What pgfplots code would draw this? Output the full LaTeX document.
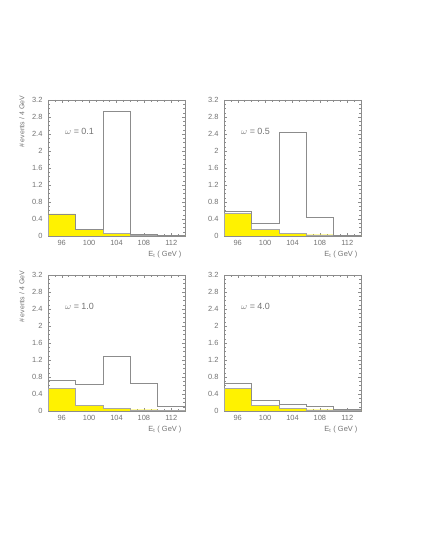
\documentclass[border=0pt]{standalone}
\usepackage{pgfplots}
\pgfplotsset{compat=1.18}
\usepackage{fontspec}
\setmainfont{Liberation Sans}
\definecolor{frame}{gray}{0.55}
\definecolor{txt}{gray}{0.45}
\pgfplotsset{
  histo/.style={
    scale only axis, width=137bp, height=136bp, anchor=south west,
    xmin=94, xmax=114, ymin=0, ymax=3.2,
    xtick={96,100,104,108,112},
    ytick={0,0.4,0.8,1.2,1.6,2,2.4,2.8,3.2},
    minor xtick={94,95,...,114},
    minor ytick={0,0.1,...,3.2},
    tick align=inside,
    major tick length=3bp, minor tick length=1.6bp,
    axis line style={frame, line width=0.5bp},
    every tick/.style={frame, line width=0.4bp},
    tick label style={font=\fontsize{7.5}{8}\selectfont, text=txt},
    /pgf/number format/assume math mode=true,
    xticklabel style={yshift=-1bp},
    yticklabel style={xshift=-2bp},
    xlabel={E\textsubscript{t} ( GeV )},
    xlabel style={at={(rel axis cs:1,0)}, anchor=north east, yshift=-12bp,
      font=\fontsize{7.5}{8}\selectfont, text=txt},
  },
  withylab/.style={
    ylabel={\# events / 4 GeV},
    every axis y label/.style={at={(rel axis cs:-0.19,1.055)}, rotate=90, anchor=east,
      font=\fontsize{7}{8}\selectfont, text=txt},
  },
  sig/.style={const plot, fill=yellow, draw=gray!70, line width=0.4bp},
  tot/.style={const plot, draw=gray!90, line width=0.6bp},
}
\newcommand{\omg}[1]{\node[anchor=west, font=\fontsize{9}{10}\selectfont, text=txt]
  at (axis cs:96.0,2.45) {$\omega$ = #1};}
\begin{document}
\begin{tikzpicture}
\useasboundingbox (0,0) rectangle (421bp,545bp);
% omega = 0.1
\begin{axis}[histo, withylab, at={(48bp,309bp)}]
  \addplot[sig] coordinates {(94,0.52) (98,0.15) (102,0.055) (106,0.03) (110,0.015) (114,0.015)} \closedcycle;
  \addplot[tot] coordinates {(94,0.52) (98,0.15) (102,2.93) (106,0.04) (110,0.02) (114,0.02)};
  \omg{0.1}
\end{axis}
% omega = 0.5
\begin{axis}[histo, at={(224bp,309bp)}]
  \addplot[sig] coordinates {(94,0.53) (98,0.15) (102,0.055) (106,0.03) (110,0.015) (114,0.015)} \closedcycle;
  \addplot[tot] coordinates {(94,0.58) (98,0.31) (102,2.44) (106,0.45) (110,0.02) (114,0.02)};
  \omg{0.5}
\end{axis}
% omega = 1.0
\begin{axis}[histo, withylab, at={(48bp,134bp)}]
  \addplot[sig] coordinates {(94,0.53) (98,0.13) (102,0.06) (106,0.03) (110,0.015) (114,0.015)} \closedcycle;
  \addplot[tot] coordinates {(94,0.72) (98,0.63) (102,1.29) (106,0.65) (110,0.12) (114,0.12)};
  \omg{1.0}
\end{axis}
% omega = 4.0
\begin{axis}[histo, at={(224bp,134bp)}]
  \addplot[sig] coordinates {(94,0.53) (98,0.13) (102,0.06) (106,0.03) (110,0.015) (114,0.015)} \closedcycle;
  \addplot[tot] coordinates {(94,0.64) (98,0.25) (102,0.16) (106,0.12) (110,0.05) (114,0.05)};
  \omg{4.0}
\end{axis}
\end{tikzpicture}
\end{document}
